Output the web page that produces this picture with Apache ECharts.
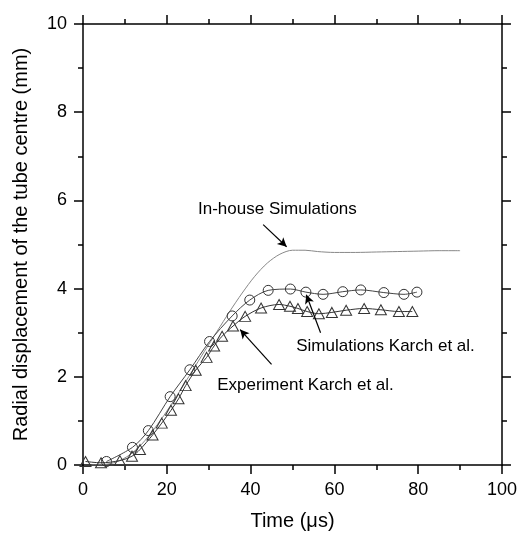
<!DOCTYPE html>
<html>
<head>
<meta charset="utf-8">
<script src="https://cdn.jsdelivr.net/npm/echarts@6/dist/echarts.min.js"></script>
<style>html,body{margin:0;padding:0;background:#fff}#c{width:520px;height:536px}</style>
</head>
<body>
<div id="c"></div>
<script>
const xTicks = [0, 20, 40, 60, 80, 100];
const yTicks = [0, 2, 4, 6, 8, 10];

const inHouse = [[2,0],[5,0.01],[8,0.07],[11,0.22],[14,0.47],[17,0.82],[20,1.22],[23,1.66],[26,2.12],[29,2.58],[32,3.03],[35,3.48],[38,3.9],[41,4.28],[44,4.58],[47,4.78],[50,4.87],[53,4.87],[56,4.84],[60,4.82],[65,4.82],[70,4.83],[75,4.84],[80,4.85],[85,4.86],[90,4.86]];

const simKarch = [[5.6,0.08],[11.8,0.4],[15.6,0.78],[20.8,1.55],[25.5,2.16],[30.2,2.8],[35.6,3.38],[39.8,3.74],[44.2,3.96],[49.5,3.99],[53.2,3.92],[57.3,3.87],[62,3.93],[66.3,3.97],[71.8,3.91],[76.6,3.87],[79.7,3.92]];

const expKarch = [[0.6,0.08],[4.3,0.05],[8.8,0.1],[11.7,0.2],[13.6,0.35],[16.6,0.68],[18.8,0.95],[21,1.24],[22.8,1.5],[24.5,1.8],[26.9,2.15],[29.5,2.44],[31.3,2.7],[33.2,2.92],[35.8,3.15],[38.7,3.37],[42.5,3.56],[46.8,3.64],[49.4,3.6],[51.3,3.55],[53.5,3.48],[56.3,3.43],[59.4,3.46],[62.8,3.51],[67.1,3.55],[71.1,3.52],[75.4,3.48],[78.6,3.48]];

const annotationTexts = ['In-house Simulations', 'Simulations Karch et al.', 'Experiment Karch et al.'];
const annotationPos = [[46.4, 5.79], [72.2, 2.70], [53.1, 1.80]];
const arrowFrom = [[43.0, 5.45], [56.7, 3.0], [45.0, 2.28]];
const arrowTo = [[48.6, 4.95], [53.3, 3.86], [37.5, 3.07]];

const FONT = 'Liberation Sans, Arial, sans-serif';
const chart = echarts.init(document.getElementById('c'), null, {renderer: 'canvas'});

const axisCommon = {
  axisLine: {show: true, onZero: false, lineStyle: {color: '#000', width: 1.5}},
  axisTick: {show: true, inside: false, length: 9, lineStyle: {color: '#000', width: 1.5}},
  minorTick: {show: true, splitNumber: 2, length: 5, lineStyle: {color: '#000', width: 1.5}},
  splitLine: {show: false}
};

const option = {
  animation: false,
  backgroundColor: '#fff',
  grid: {left: 83, top: 24, right: 14, bottom: 68},
  xAxis: [
    Object.assign({
      type: 'value', min: xTicks[0], max: xTicks[xTicks.length-1], interval: 20,
      name: 'Time (\u03bcs)', nameLocation: 'middle', nameGap: 46,
      nameTextStyle: {fontFamily: FONT, fontSize: 20, color: '#000'},
      axisLabel: {fontFamily: FONT, fontSize: 18, color: '#000', margin: 16}
    }, axisCommon),
    Object.assign({
      type: 'value', position: 'top', min: xTicks[0], max: xTicks[xTicks.length-1], interval: 20,
      axisLabel: {show: false}
    }, axisCommon)
  ],
  yAxis: [
    Object.assign({
      type: 'value', min: yTicks[0], max: yTicks[yTicks.length-1], interval: 2,
      name: 'Radial displacement of the tube centre (mm)', nameLocation: 'middle', nameGap: 52,
      nameTextStyle: {fontFamily: FONT, fontSize: 20, color: '#000'},
      axisLabel: {fontFamily: FONT, fontSize: 18, color: '#000', margin: 16}
    }, axisCommon),
    Object.assign({
      type: 'value', position: 'right', min: yTicks[0], max: yTicks[yTicks.length-1], interval: 2,
      axisLabel: {show: false}
    }, axisCommon)
  ],
  series: [
    {
      name: 'In-house Simulations', type: 'line', data: inHouse, smooth: 0.3,
      showSymbol: false, lineStyle: {color: '#888', width: 1}, z: 2
    },
    {
      name: 'Simulations Karch et al.', type: 'line', data: simKarch, smooth: 0.3,
      symbol: 'circle', symbolSize: 10,
      itemStyle: {color: 'rgba(0,0,0,0)', borderColor: '#333', borderWidth: 1},
      lineStyle: {color: '#444', width: 1}, z: 3
    },
    {
      name: 'Experiment Karch et al.', type: 'line', data: expKarch, smooth: 0.3,
      symbol: 'triangle', symbolSize: [11, 10],
      itemStyle: {color: 'rgba(0,0,0,0)', borderColor: '#333', borderWidth: 1},
      lineStyle: {color: '#333', width: 1}, z: 3,
      markLine: {
        silent: true, symbol: ['none', 'arrow'], symbolSize: [7, 9],
        label: {show: false},
        lineStyle: {color: '#000', width: 1.2, type: 'solid'},
        data: arrowFrom.map((f, i) => [{coord: f}, {coord: arrowTo[i]}])
      }
    },
    {
      name: 'annotations', type: 'scatter', silent: true,
      symbolSize: 1, itemStyle: {color: '#fff', opacity: 1},
      label: {show: true, position: 'inside', fontFamily: FONT, fontSize: 17, color: '#000',
        textBorderWidth: 0, opacity: 1, formatter: p => annotationTexts[p.dataIndex]},
      data: annotationPos, z: 5
    }
  ]
};
chart.setOption(option);
</script>
</body>
</html>
